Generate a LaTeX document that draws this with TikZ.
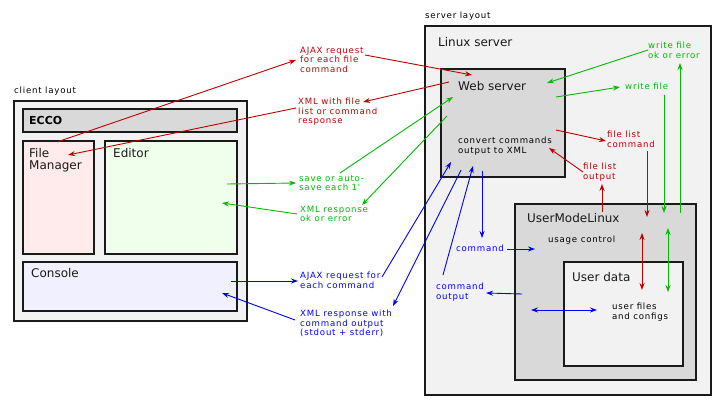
\documentclass[tikz,border=0pt]{standalone}
\usepackage{fontspec}
\setmainfont{DejaVu Sans}
\newfontfamily\lblfont[LetterSpace=9]{DejaVu Sans}
\usetikzlibrary{arrows.meta}
\definecolor{inkred}{HTML}{C00000}
\definecolor{inkgreen}{HTML}{00BB00}
\definecolor{inkblue}{HTML}{0000FF}
\definecolor{paneback}{HTML}{F2F2F2}
\definecolor{panedark}{HTML}{D9D9D9}
\definecolor{fmpink}{HTML}{FFEBEB}
\definecolor{edgreen}{HTML}{F0FFEB}
\definecolor{conblue}{HTML}{F0F0FF}
\definecolor{edgeink}{HTML}{1A1A1A}
\newcommand{\panel}[6]{%
  \node[draw=edgeink, line width=2pt, fill=#6, anchor=north west, inner sep=0pt,
        minimum width=#4pt, minimum height=#5pt] (#1) at (#2,#3) {};}
\newcommand{\lbl}[5]{%
  \node[anchor=north west, inner sep=0pt, align=left, text=#4,
        font=\lblfont\fontsize{8.6}{9.3}\selectfont] (#1) at (#2,#3) {#5};}
\newcommand{\ttl}[4]{%
  \node[anchor=north west, inner sep=0pt, align=left, text=edgeink,
        font=\fontsize{12}{12.5}\selectfont] (#1) at (#2,#3) {#4};}
\tikzset{
  ar/.style={-{Stealth[length=7pt,width=5pt]}, line width=0.9pt},
  dar/.style={{Stealth[length=7pt,width=5pt]}-{Stealth[length=7pt,width=5pt]}, line width=0.9pt}
}

\begin{document}
\begin{tikzpicture}[x=1pt, y=-1pt]
  \fill[white] (0,0) rectangle (723,406);
  \useasboundingbox (0,0) rectangle (723,406);

  % client side
  \lbl{clientlay}{14}{87}{black}{client layout}
  \panel{client}{13}{100}{233}{220}{paneback}
  \panel{ecco}{22}{108}{214}{23}{panedark}
  \panel{fm}{22}{140}{71}{113}{fmpink}
  \panel{editor}{104}{140}{132}{113}{edgreen}
  \panel{console}{22}{261}{214}{49}{conblue}
  \node[anchor=north west, inner sep=0pt, font=\fontsize{11}{12}\selectfont\bfseries]
    (eccot) at (29,116.5) {ECCO};
  \ttl{fmt}{29}{148}{File\\Manager}
  \ttl{editort}{113}{148}{Editor}
  \ttl{consolet}{31}{268}{Console}

  % server side
  \lbl{serverlay}{425}{12}{black}{server layout}
  \panel{linux}{424}{25}{286}{369}{paneback}
  \panel{web}{440}{68}{124}{108}{panedark}
  \panel{uml}{514}{203}{181}{176}{panedark}
  \panel{udata}{563}{261}{119}{104}{paneback}
  \ttl{linuxt}{438}{37}{Linux server}
  \ttl{webt}{458}{81}{Web server}
  \lbl{convt}{458}{137}{black}{convert commands\\output to XML}
  \ttl{umlt}{527}{213}{UserModeLinux}
  \lbl{usaget}{548}{236}{black}{usage control}
  \ttl{udatat}{572}{272}{User data}
  \lbl{filest}{612}{303}{black}{user files\\and configs}

  % labels in the middle
  \lbl{ajaxf}{300}{47}{inkred}{AJAX request\\for each file\\command}
  \lbl{xmlf}{298}{98}{inkred}{XML with file\\list or command\\response}
  \lbl{save}{299}{175}{inkgreen}{save or auto-\\save each 1'}
  \lbl{xmlok}{300}{206}{inkgreen}{XML response\\ok or error}
  \lbl{ajaxc}{300}{272}{inkblue}{AJAX request for\\each command}
  \lbl{xmlc}{300}{310}{inkblue}{XML response with\\command output\\(stdout + stderr)}

  % labels inside the server
  \lbl{flcmd}{607}{131}{inkred}{file list\\command}
  \lbl{flout}{583}{163}{inkred}{file list\\output}
  \lbl{wok}{648}{42}{inkgreen}{write file\\ok or error}
  \lbl{wfile}{625}{83}{inkgreen}{write file}
  \lbl{cmd}{456}{245}{inkblue}{command}
  \lbl{cmdout}{436}{283}{inkblue}{command\\output}

  % connector ends
  \coordinate (fmout) at (57,142);
  \coordinate (fmin) at (68,155);
  \coordinate (edout) at (227,184);
  \coordinate (edin) at (222,203);
  \coordinate (conout) at (231,281);
  \coordinate (conin) at (222,293);
  \coordinate (webA) at (472,75);
  \coordinate (webB) at (449,82);
  \coordinate (webC) at (453,97);
  \coordinate (webD) at (447,116);
  \coordinate (webE) at (451,162);
  \coordinate (webF) at (461,170);
  \coordinate (webG) at (473,166);
  \coordinate (webH) at (482,171);
  \coordinate (webI) at (547,83);
  \coordinate (webJ) at (556,97);
  \coordinate (webK) at (556,130);
  \coordinate (webL) at (549,148);
  \coordinate (ajaxfin) at (296,60);
  \coordinate (ajaxfout) at (365,55);
  \coordinate (xmlfin) at (363,102);
  \coordinate (xmlfout) at (296,108);
  \coordinate (savein) at (296,183);
  \coordinate (saveout) at (340,173);
  \coordinate (xmlokin) at (362,205);
  \coordinate (xmlokout) at (297,214);
  \coordinate (ajaxcin) at (298,281);
  \coordinate (ajaxcout) at (382,277);
  \coordinate (xmlcin) at (393,306);
  \coordinate (xmlcout) at (295,320);
  \coordinate (flcmdin) at (606,141);
  \coordinate (flcmdout) at (647,151);
  \coordinate (floutA) at (583,172);
  \coordinate (floutin) at (602,184);
  \coordinate (wokout) at (648,50);
  \coordinate (wokin) at (680,63);
  \coordinate (wfilein) at (620,87);
  \coordinate (wfileout) at (664,95);
  \coordinate (cmdin) at (482,238);
  \coordinate (cmdA) at (507,249);
  \coordinate (cmdoutin) at (486,293);
  \coordinate (cmdoutA) at (443,275);
  \coordinate (umlA) at (602,212);
  \coordinate (umlB) at (647,217);
  \coordinate (umlC) at (664,213);
  \coordinate (umlD) at (680,213);
  \coordinate (umlE) at (535,249);
  \coordinate (umlF) at (522,294);
  \coordinate (redtop) at (642,233);
  \coordinate (redbot) at (642,290);
  \coordinate (greentop) at (668,228);
  \coordinate (greenbot) at (668,292);
  \coordinate (bluel) at (531,310);
  \coordinate (bluer) at (597,310);

  % red connectors
  \draw[ar, inkred] (fmout) -- (ajaxfin);
  \draw[ar, inkred] (ajaxfout) -- (webA);
  \draw[ar, inkred] (webB) -- (xmlfin);
  \draw[ar, inkred] (xmlfout) -- (fmin);
  \draw[ar, inkred] (webK) -- (flcmdin);
  \draw[ar, inkred] (flcmdout) -- (umlB);
  \draw[ar, inkred] (floutA) -- (webL);
  \draw[ar, inkred] (umlA) -- (floutin);
  \draw[dar, inkred] (redtop) -- (redbot);

  % green connectors
  \draw[ar, inkgreen] (edout) -- (savein);
  \draw[ar, inkgreen] (saveout) -- (webC);
  \draw[ar, inkgreen] (webD) -- (xmlokin);
  \draw[ar, inkgreen] (xmlokout) -- (edin);
  \draw[ar, inkgreen] (webJ) -- (wfilein);
  \draw[ar, inkgreen] (wokout) -- (webI);
  \draw[ar, inkgreen] (wfileout) -- (umlC);
  \draw[ar, inkgreen] (umlD) -- (wokin);
  \draw[dar, inkgreen] (greentop) -- (greenbot);

  % blue connectors
  \draw[ar, inkblue] (conout) -- (ajaxcin);
  \draw[ar, inkblue] (ajaxcout) -- (webE);
  \draw[ar, inkblue] (webF) -- (xmlcin);
  \draw[ar, inkblue] (xmlcout) -- (conin);
  \draw[ar, inkblue] (cmdoutA) -- (webG);
  \draw[ar, inkblue] (webH) -- (cmdin);
  \draw[ar, inkblue] (cmdA) -- (umlE);
  \draw[ar, inkblue] (umlF) -- (cmdoutin);
  \draw[dar, inkblue] (bluel) -- (bluer);
\end{tikzpicture}
\end{document}
